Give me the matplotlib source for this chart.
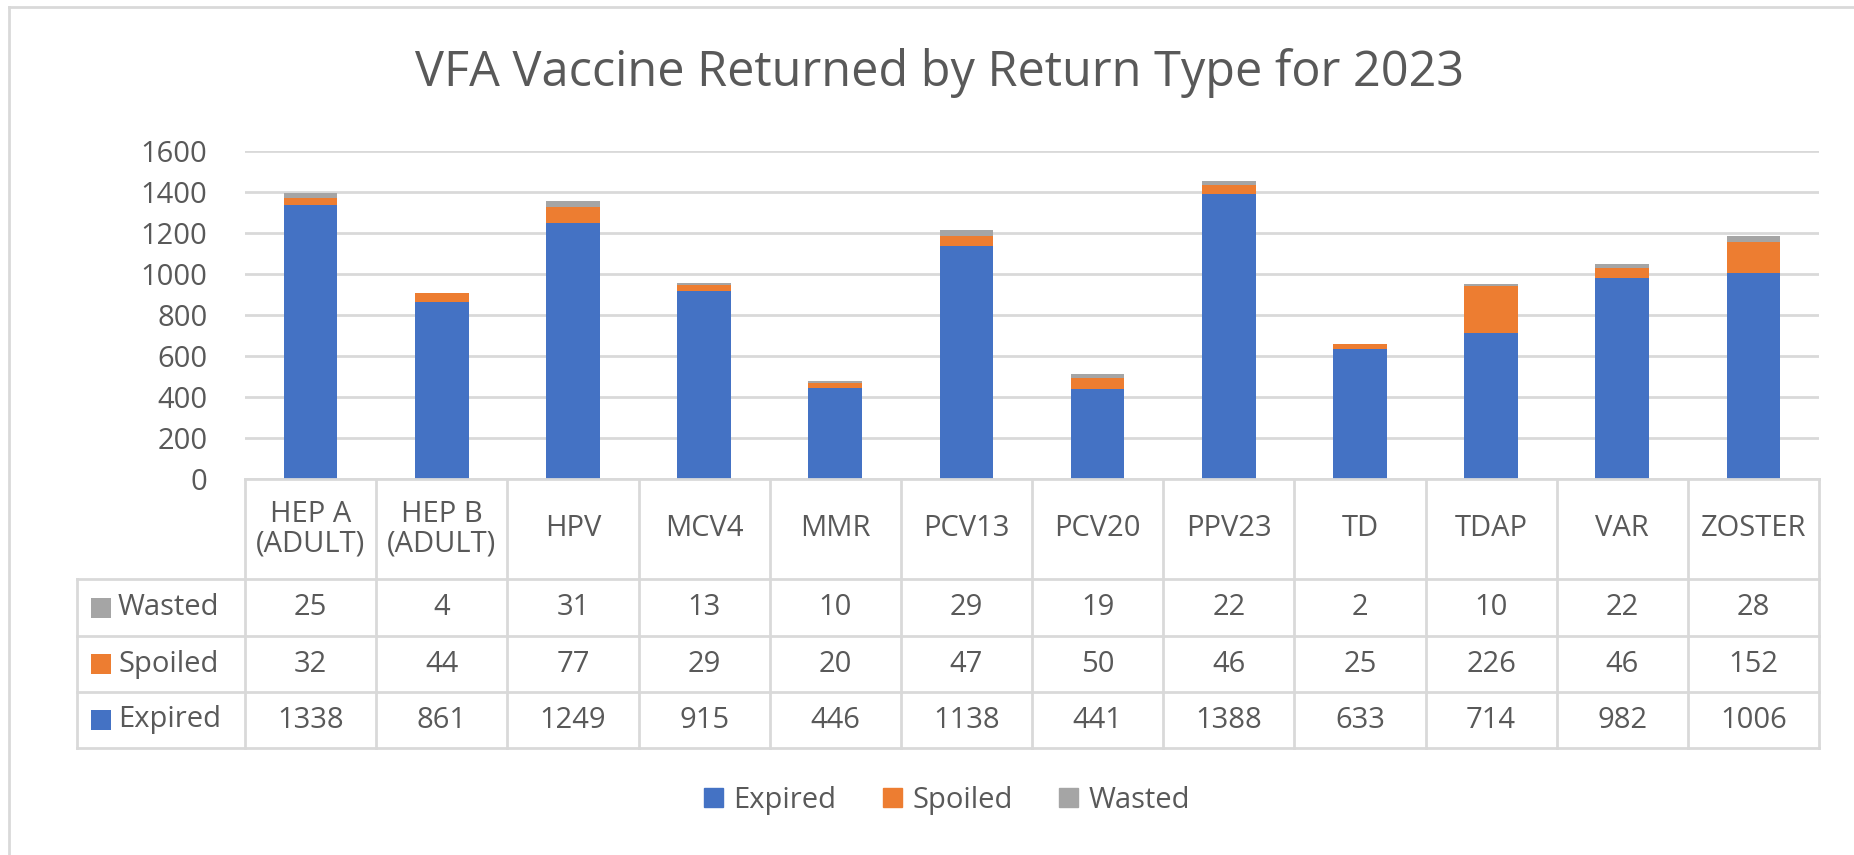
import matplotlib
matplotlib.use("Agg")
import matplotlib.pyplot as plt
import matplotlib.transforms as mtransforms
import numpy as np

plt.rcParams['font.family'] = ['Open Sans', 'DejaVu Sans']

vaccines = ['HEP A\n(ADULT)', 'HEP B\n(ADULT)', 'HPV', 'MCV4', 'MMR', 'PCV13',
            'PCV20', 'PPV23', 'TD', 'TDAP', 'VAR', 'ZOSTER']
expired = [1338, 861, 1249, 915, 446, 1138, 441, 1388, 633, 714, 982, 1006]
spoiled = [32, 44, 77, 29, 20, 47, 50, 46, 25, 226, 46, 152]
wasted = [25, 4, 31, 13, 10, 29, 19, 22, 2, 10, 22, 28]
series_names = ['Expired', 'Spoiled', 'Wasted']
colors = ['#4472C4', '#ED7D31', '#A5A5A5']
yticks = [0, 200, 400, 600, 800, 1000, 1200, 1400, 1600]

TXT = '#595959'
GRID = '#D9D9D9'
FS = 21
W, H = 1854, 855

fig = plt.figure(figsize=(W / 100, H / 100), dpi=100)

def fx(x):
    return x / W

def fy(y):
    return 1 - y / H

# plot area in pixels
left, right, top, bottom = 245, 1819, 151, 479
ax = fig.add_axes([fx(left), fy(bottom), fx(right - left), (bottom - top) / H])

x = np.arange(len(vaccines))
bw = 0.41
ax.bar(x, expired, bw, color=colors[0], zorder=3)
ax.bar(x, spoiled, bw, bottom=expired, color=colors[1], zorder=3)
ax.bar(x, wasted, bw, bottom=np.array(expired) + np.array(spoiled), color=colors[2], zorder=3)

ax.set_xlim(-0.5, len(vaccines) - 0.5)
ax.set_ylim(0, 1600)
ax.set_yticks(yticks)
ax.set_yticklabels([str(t) for t in yticks], fontsize=FS, color=TXT)
ax.tick_params(axis='y', length=0, pad=27)
ax.set_xticks([])
ax.grid(axis='y', color=GRID, linewidth=2, zorder=0)
for s in ax.spines.values():
    s.set_visible(False)

fig.text(fx(940), fy(73), 'VFA Vaccine Returned by Return Type for 2023',
         ha='center', va='center', fontsize=35, color=TXT)

# data table under the chart
tr = mtransforms.blended_transform_factory(ax.transData, fig.transFigure)
rows_y = [479, 579, 636, 692, 748]
lab_left = 77
lw = 2

def hline(y, x0, x1):
    fig.add_artist(plt.Line2D([fx(x0), fx(x1)], [fy(y), fy(y)], color=GRID, lw=lw))

def vline(xp, y0, y1):
    fig.add_artist(plt.Line2D([fx(xp), fx(xp)], [fy(y0), fy(y1)], color=GRID, lw=lw))

hline(rows_y[0], left, right)
for y in rows_y[1:]:
    hline(y, lab_left, right)
vline(lab_left, rows_y[1], rows_y[-1])
col_w = (right - left) / len(vaccines)
for i in range(len(vaccines) + 1):
    vline(left + i * col_w, rows_y[0], rows_y[-1])

for i, name in enumerate(vaccines):
    fig.text(i, fy((rows_y[0] + rows_y[1]) / 2), name, transform=tr, ha='center',
             va='center', fontsize=FS, color=TXT, linespacing=1.0)

table_rows = [('Wasted', wasted, colors[2]), ('Spoiled', spoiled, colors[1]),
              ('Expired', expired, colors[0])]
for r, (name, vals, c) in enumerate(table_rows):
    yc = (rows_y[r + 1] + rows_y[r + 2]) / 2
    fig.add_artist(plt.Rectangle((fx(91), fy(yc + 10)), fx(20), 20 / H, color=c, lw=0))
    fig.text(fx(118), fy(yc), name, ha='left', va='center', fontsize=FS, color=TXT)
    for i, v in enumerate(vals):
        fig.text(i, fy(yc), str(v), transform=tr, ha='center', va='center',
                 fontsize=FS, color=TXT)

# legend
handles = [plt.Rectangle((0, 0), 1, 1, color=c) for c in colors]
fig.legend(handles, series_names, loc='center', bbox_to_anchor=(fx(947), fy(800)),
           ncol=3, frameon=False, fontsize=FS, labelcolor=TXT,
           handlelength=0.65, handleheight=0.65, handletextpad=0.35, columnspacing=1.6)

# chart frame
fig.add_artist(plt.Line2D([fx(9), fx(9)], [fy(7), 0], color=GRID, lw=2))
fig.add_artist(plt.Line2D([fx(9), 1], [fy(7), fy(7)], color=GRID, lw=2))

fig.savefig('out.png', dpi=100)
